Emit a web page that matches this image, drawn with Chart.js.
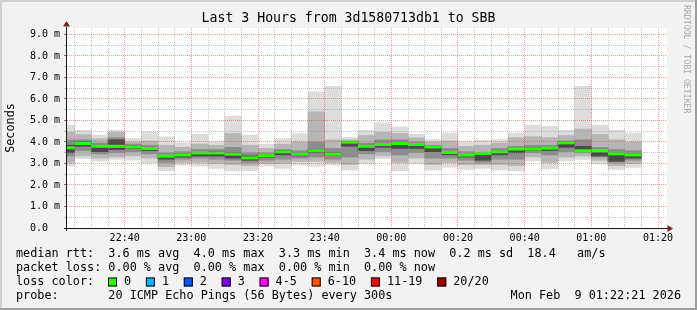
<!DOCTYPE html>
<html>
<head>
<meta charset="utf-8">
<script src="https://cdn.jsdelivr.net/npm/chart.js@4.4.1/dist/chart.umd.min.js"></script>
<style>
  html, body { margin: 0; padding: 0; background: #f2f2f2; }
  #wrap { width: 697px; height: 310px; }
</style>
</head>
<body>
<div id="wrap"><canvas id="smoke" width="697" height="310"></canvas></div>
<script>
// 5 minute steps (start time of each step)
const stepStarts = [
  '22:20', '22:25', '22:30', '22:35', '22:40', '22:45', '22:50', '22:55',
  '23:00', '23:05', '23:10', '23:15', '23:20', '23:25', '23:30', '23:35',
  '23:40', '23:45', '23:50', '23:55', '00:00', '00:05', '00:10', '00:15',
  '00:20', '00:25', '00:30', '00:35', '00:40', '00:45', '00:50', '00:55',
  '01:00', '01:05', '01:10'
];

// rtt in ms
const medianRtt = [3.73, 3.93, 3.80, 3.80, 3.77, 3.70, 3.34, 3.40, 3.49, 3.49, 3.43, 3.26, 3.36, 3.54, 3.43, 3.59, 3.43, 3.99,
  3.80, 3.88, 3.93, 3.88, 3.77, 3.51, 3.39, 3.47, 3.54, 3.67, 3.67, 3.71, 3.96, 3.59, 3.59, 3.45, 3.40];
const pingMin = [2.88, 3.23, 3.11, 3.19, 3.16, 3.03, 2.66, 2.92, 2.88, 2.77, 2.66, 2.66, 2.88, 2.77, 2.92, 2.88, 2.92, 2.69,
  3.00, 3.23, 2.66, 3.00, 2.69, 2.82, 2.72, 2.77, 2.69, 2.66, 3.12, 2.75, 3.12, 3.19, 3.00, 2.72, 2.82];
const pingMax = [4.78, 4.55, 4.32, 4.55, 4.16, 4.47, 4.24, 3.96, 4.36, 4.01, 5.20, 4.32, 3.90, 4.16, 4.39, 6.33, 6.59, 4.21,
  4.55, 4.89, 4.70, 4.36, 4.11, 4.42, 4.01, 4.08, 4.11, 4.42, 4.78, 4.73, 4.55, 6.59, 4.78, 4.55, 4.42];
const smokeLow15 = [3.05, 3.35, 3.25, 3.30, 3.35, 3.25, 2.85, 3.05, 3.05, 3.00, 2.95, 2.90, 3.00, 3.00, 3.10, 3.10, 3.05, 2.95,
  3.20, 3.35, 3.05, 3.25, 2.95, 3.05, 2.95, 2.95, 2.95, 2.90, 3.30, 3.05, 3.30, 3.35, 3.15, 2.90, 3.00];
const smokeHigh85 = [4.45, 4.35, 4.15, 4.45, 4.00, 4.05, 3.85, 3.75, 3.90, 3.85, 4.40, 3.85, 3.70, 3.90, 4.00, 5.40, 4.10, 4.10,
  4.30, 4.45, 4.40, 4.20, 4.00, 4.05, 3.80, 3.85, 3.95, 4.20, 4.25, 4.20, 4.30, 4.60, 4.35, 4.10, 4.00];
const smokeLow35 = [3.35, 3.60, 3.45, 3.50, 3.55, 3.45, 3.05, 3.20, 3.25, 3.20, 3.15, 3.05, 3.15, 3.20, 3.25, 3.30, 3.20, 3.30,
  3.45, 3.55, 3.40, 3.50, 3.25, 3.25, 3.15, 3.05, 3.20, 3.20, 3.50, 3.40, 3.55, 3.50, 3.30, 3.05, 3.15];
const smokeHigh65 = [4.10, 4.10, 3.95, 4.20, 3.90, 3.85, 3.50, 3.55, 3.65, 3.65, 3.75, 3.50, 3.50, 3.65, 3.60, 4.00, 3.70, 4.02,
  3.95, 4.10, 4.10, 4.00, 3.85, 3.70, 3.55, 3.50, 3.70, 3.80, 3.85, 3.85, 4.05, 4.10, 3.75, 3.65, 3.60];
const coreLow = [3.50, 3.80, 3.55, 3.65, 3.70, 3.60, 3.20, 3.30, 3.35, 3.35, 3.25, 3.15, 3.28, 3.40, 3.35, 3.50, 3.38, 3.80,
  3.60, 3.75, 3.70, 3.70, 3.55, 3.40, 3.30, 3.15, 3.40, 3.50, 3.60, 3.60, 3.75, 3.58, 3.35, 3.10, 3.25];
const coreHigh = [3.85, 4.00, 3.85, 4.10, 3.82, 3.75, 3.38, 3.45, 3.52, 3.55, 3.50, 3.35, 3.40, 3.60, 3.48, 3.65, 3.50, 4.00,
  3.85, 3.92, 3.95, 3.90, 3.80, 3.55, 3.42, 3.45, 3.58, 3.70, 3.72, 3.75, 4.00, 3.80, 3.60, 3.50, 3.45];

const timeLabels = ['22:40', '23:00', '23:20', '23:40', '00:00', '00:20', '00:40', '01:00', '01:20'];
const yTickValues = [0, 0.5, 1, 1.5, 2, 2.5, 3, 3.5, 4, 4.5, 5, 5.5, 6, 6.5, 7, 7.5, 8, 8.5, 9];
const yLabels = ['0.0  ', '1.0 m', '2.0 m', '3.0 m', '4.0 m', '5.0 m', '6.0 m', '7.0 m', '8.0 m', '9.0 m'];

const legendLines = [
  'median rtt:  3.6 ms avg  4.0 ms max  3.3 ms min  3.4 ms now  0.2 ms sd  18.4   am/s',
  'packet loss: 0.00 % avg  0.00 % max  0.00 % min  0.00 % now',
  'loss color:',
  'probe:       20 ICMP Echo Pings (56 Bytes) every 300s'
];
const lossLabels = ['0', '1', '2', '3', '4-5', '6-10', '11-19', '20/20'];
const lossColors = ['#26ff00', '#00b8ff', '#0059ff', '#7e00ff', '#ff00ff', '#ff5500', '#ff0000', '#a10000'];
const stampText = 'Mon Feb  9 01:22:21 2026';

const MONO = '"DejaVu Sans Mono", monospace';
const RED = 'rgba(235, 40, 40, 0.45)';
const GRAY = 'rgba(150, 150, 150, 0.55)';

// minutes since 22:00
const toMinutes = (t) => {
  const [h, m] = t.split(':').map(Number);
  return (h < 12 ? h + 24 : h) * 60 + m - 22 * 60;
};
const centers = stepStarts.map((t) => toMinutes(t) + 2.5);
const band = (lo, hi) => centers.map((x, i) => ({ x, y: [lo[i], hi[i]] }));

const xMin = 22.7, xMax = 202.7;
const xTicks = [];
for (let v = 25; v <= xMax; v += 5) xTicks.push(v);

const halfStep = (ctx) => {
  const s = ctx.chart.scales.x;
  return (s.getPixelForValue(5) - s.getPixelForValue(0)) / 2;
};

const rrdFrame = {
  id: 'rrdFrame',
  beforeDraw(chart) {
    const { ctx, width, height, chartArea: a } = chart;
    ctx.save();
    ctx.fillStyle = '#f2f2f2';
    ctx.fillRect(0, 0, width, height);
    ctx.fillStyle = '#cfcfcf';
    ctx.fillRect(0, 0, width, 2);
    ctx.fillRect(0, 0, 2, height);
    ctx.fillStyle = '#9e9e9e';
    ctx.fillRect(width - 2, 0, 2, height);
    ctx.fillRect(0, height - 2, width, 2);
    ctx.fillStyle = '#ffffff';
    ctx.fillRect(a.left, a.top, a.right - a.left, a.bottom - a.top);
    ctx.restore();
  },
  afterDraw(chart) {
    const { ctx, width, chartArea: a } = chart;
    ctx.save();

    // axes
    const ax = a.left - 0.5, ay = a.bottom + 0.5;
    ctx.strokeStyle = '#1a1a1a';
    ctx.lineWidth = 1;
    ctx.beginPath();
    ctx.moveTo(a.left - 3, ay);
    ctx.lineTo(a.right + 1, ay);
    ctx.moveTo(ax, a.bottom + 3);
    ctx.lineTo(ax, a.top - 1);
    ctx.stroke();

    ctx.fillStyle = '#8b1a1a';
    ctx.beginPath();
    ctx.moveTo(a.right + 6, ay);
    ctx.lineTo(a.right + 0.5, ay - 3.5);
    ctx.lineTo(a.right + 0.5, ay + 3.5);
    ctx.closePath();
    ctx.fill();
    ctx.beginPath();
    ctx.moveTo(ax, a.top - 7);
    ctx.lineTo(ax - 3.5, a.top - 1.5);
    ctx.lineTo(ax + 3.5, a.top - 1.5);
    ctx.closePath();
    ctx.fill();

    // title
    ctx.fillStyle = '#000';
    ctx.font = '13.2px ' + MONO;
    ctx.textAlign = 'center';
    ctx.textBaseline = 'middle';
    ctx.fillText('Last 3 Hours from 3d1580713db1 to SBB', width / 2, 18.5);

    // vertical label
    ctx.font = '11.8px ' + MONO;
    ctx.save();
    ctx.translate(11, (a.top + a.bottom) / 2);
    ctx.rotate(-Math.PI / 2);
    ctx.fillText('Seconds', 0, 0);
    ctx.restore();

    // watermark
    ctx.save();
    ctx.font = '8.2px ' + MONO;
    ctx.fillStyle = '#a9a9a9';
    ctx.textAlign = 'left';
    ctx.translate(686.5, 5);
    ctx.rotate(Math.PI / 2);
    ctx.fillText('RRDTOOL / TOBI OETIKER', 0, 0);
    ctx.restore();

    // legend block
    ctx.font = '11.8px ' + MONO;
    ctx.textAlign = 'left';
    ctx.fillStyle = '#000';
    const rows = [254, 268, 282, 296];
    legendLines.forEach((line, i) => ctx.fillText(line, 16, rows[i]));

    let bx = 108;
    lossLabels.forEach((lbl, i) => {
      ctx.fillStyle = lossColors[i];
      ctx.fillRect(bx, rows[2] - 4.5, 9, 9);
      ctx.strokeStyle = '#000';
      ctx.strokeRect(bx + 0.5, rows[2] - 4, 8, 8);
      ctx.fillStyle = '#000';
      ctx.fillText(lbl, bx + 16, rows[2]);
      bx += 16 + ctx.measureText(lbl).width + 14.8;
    });

    ctx.textAlign = 'right';
    ctx.fillText(stampText, 681, rows[3]);
    ctx.restore();
  }
};

new Chart(document.getElementById('smoke').getContext('2d'), {
  type: 'bar',
  data: {
    datasets: [
      {
        type: 'line',
        label: 'median rtt',
        data: centers.map((x, i) => ({ x, y: medianRtt[i] })),
        showLine: false,
        pointStyle: 'line',
        pointRadius: halfStep,
        pointHoverRadius: halfStep,
        pointBorderWidth: 3,
        pointBorderColor: '#26ff00',
        order: 0,
        clip: 0,
      },
      { label: 'core', data: band(coreLow, coreHigh), backgroundColor: '#4a4a4a', order: 1, clip: 0 },
      { label: 'q35-q65', data: band(smokeLow35, smokeHigh65), backgroundColor: '#8c8c8c', order: 2, clip: 0 },
      { label: 'q15-q85', data: band(smokeLow15, smokeHigh85), backgroundColor: '#b6b6b6', order: 3, clip: 0 },
      { label: 'min-max', data: band(pingMin, pingMax), backgroundColor: '#dcdcdc', order: 4, clip: 0 },
    ],
  },
  options: {
    responsive: false,
    devicePixelRatio: 1,
    animation: false,
    events: [],
    layout: { padding: { left: 0, right: 30, top: 28, bottom: 68 } },
    datasets: {
      bar: { grouped: false, barPercentage: 1, categoryPercentage: 1, borderWidth: 0 },
    },
    plugins: {
      legend: { display: false },
      tooltip: { enabled: false },
      title: { display: false },
    },
    scales: {
      x: {
        type: 'linear',
        min: xMin,
        max: xMax,
        offset: false,
        afterFit: (s) => { s.height = 14; },
        afterBuildTicks: (s) => { s.ticks = xTicks.map((v) => ({ value: v })); },
        grid: {
          z: 1,
          offset: false,
          drawTicks: false,
          lineWidth: 1,
          color: (c) => (c.tick && c.tick.value % 20 === 0 ? RED : GRAY),
          borderDash: [1, 1],
        },
        border: { display: false, dash: [1, 1] },
        ticks: {
          autoSkip: false,
          maxRotation: 0,
          padding: 4,
          color: '#000',
          font: { family: MONO, size: 10 },
          callback: (v) => {
            const lbl = timeLabels.find((t) => toMinutes(t) === v);
            return lbl || '';
          },
        },
      },
      y: {
        min: 0,
        max: 9.3,
        afterFit: (s) => { s.width = 67; },
        afterBuildTicks: (s) => { s.ticks = yTickValues.map((v) => ({ value: v })); },
        grid: {
          z: 1,
          lineWidth: 1,
          drawTicks: true,
          tickLength: 3,
          tickBorderDash: [],
          tickColor: (c) => (c.tick && Number.isInteger(c.tick.value) ? '#777' : '#bbb'),
          color: (c) => (c.tick && Number.isInteger(c.tick.value) ? RED : GRAY),
          borderDash: [1, 1],
        },
        border: { display: false, dash: [1, 1] },
        ticks: {
          autoSkip: false,
          padding: 4,
          color: '#000',
          font: { family: MONO, size: 10 },
          callback: (v) => (Number.isInteger(v) ? yLabels[v] : ''),
        },
      },
    },
  },
  plugins: [rrdFrame],
});
</script>
</body>
</html>
